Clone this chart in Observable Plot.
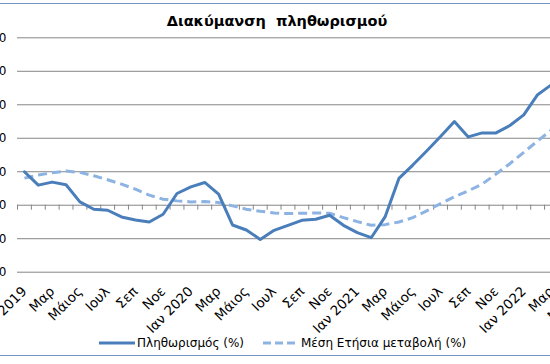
<!DOCTYPE html>
<html><head><meta charset="utf-8">
<script src="https://cdn.jsdelivr.net/npm/d3@7"></script>
<script src="https://cdn.jsdelivr.net/npm/@observablehq/plot@0.6"></script>
<style>
html,body{margin:0;padding:0;background:#fff;}
#wrap{position:relative;width:550px;height:364px;overflow:hidden;font-family:"DejaVu Sans",Verdana,sans-serif;color:#000;}
#frame{position:absolute;left:-10px;top:3px;width:570px;height:353px;border-top:1px solid #7393c4;border-bottom:1px solid #7393c4;box-sizing:border-box;}
#chart{position:absolute;left:0;top:0;}
#title{position:absolute;left:0;width:554px;top:12px;text-align:center;font-family:"DejaVu Sans",Verdana,sans-serif;font-weight:bold;font-size:14.5px;line-height:18px;white-space:pre;}
.leg{position:absolute;top:335px;height:16px;display:flex;align-items:center;font-size:12px;white-space:nowrap;}
.leg svg{display:block;}
</style></head>
<body>
<div id="wrap">
  <div id="frame"></div>
  <div id="chart"></div>
  <div id="title"></div>
  <div class="leg" id="leg1" style="left:99px"></div>
  <div class="leg" id="leg2" style="left:263px"></div>
</div>
<script>
// Categories (months Jan 2019 – May 2022)
const categories = ["Ιαν 2019","Φεβ","Μαρ","Απρ","Μάιος","Ιουν","Ιουλ","Αυγ","Σεπ","Οκτ","Νοε","Δεκ",
  "Ιαν 2020","Φεβ","Μαρ","Απρ","Μάιος","Ιουν","Ιουλ","Αυγ","Σεπ","Οκτ","Νοε","Δεκ",
  "Ιαν 2021","Φεβ","Μαρ","Απρ","Μάιος","Ιουν","Ιουλ","Αυγ","Σεπ","Οκτ","Νοε","Δεκ",
  "Ιαν 2022","Φεβ","Μαρ","Απρ","Μάιος"];
// Πληθωρισμός (%)
const inflation = [1.0,0.6,0.69,0.61,0.1,-0.12,-0.15,-0.35,-0.44,-0.5,-0.27,0.35,
  0.55,0.68,0.33,-0.59,-0.74,-1.02,-0.75,-0.6,-0.45,-0.42,-0.3,-0.6,
  -0.82,-0.97,-0.35,0.8,1.2,1.62,2.05,2.5,2.04,2.16,2.16,2.38,
  2.7,3.3,3.6];
// Μέση Ετήσια μεταβολή (%)
const annualAvg = [0.81,0.9,0.97,1.02,0.98,0.88,0.76,0.63,0.48,0.3,0.18,0.13,
  0.1,0.11,0.08,-0.02,-0.12,-0.18,-0.23,-0.25,-0.24,-0.23,-0.24,-0.37,
  -0.49,-0.6,-0.58,-0.5,-0.37,-0.17,0.05,0.25,0.43,0.63,0.93,1.24,
  1.58,1.92,2.25];
const yTicks = [-2,-1,0,1,2,3,4,5];
const titleText = "Διακύμανση  πληθωρισμού";
const seriesNames = ["Πληθωρισμός (%)","Μέση Ετήσια μεταβολή (%)"];
const colors = ["#4a7ebb","#8db3e2"];

const solidData = inflation.map((v,i)=>({i, v}));
const dashData = annualAvg.map((v,i)=>({i, v}));
const labelIdx = categories.map((c,i)=>i).filter(i=>i%2===0);
const tickPos = categories.map((c,i)=>i-0.5);
const fmt = v => d3.format(".1f")(v).replace(".", ",").replace("−","-");

const step = 13.87;
const x0 = 17;
const chart = Plot.plot({
  width: 550, height: 364,
  marginLeft: 17, marginRight: 0, marginTop: 37.3, marginBottom: 364-271.7,
  style: {fontFamily: '"DejaVu Sans", Verdana, sans-serif', fontSize: "12px", color: "#000", background: "transparent"},
  x: {domain: [-0.5, categories.length - 0.5], range: [x0, x0 + step*categories.length], label: null},
  y: {domain: [-2, 5], range: [271.7, 37.3], label: null},
  marks: [
    Plot.ruleY(yTicks, {stroke: "#868686", strokeWidth: 1}),
    Plot.ruleX(tickPos, {x: d=>d, y1: 0, y2: 0, insetBottom: -5, stroke: "#868686"}),
    Plot.axisY(yTicks, {anchor: "left", tickSize: 0, tickPadding: 11, tickFormat: fmt, fontSize: 12, label: null}),
    Plot.axisX(labelIdx, {anchor: "bottom", tickSize: 0, tickPadding: 17, tickRotate: -45, tickFormat: i => categories[i], fontSize: 13.5, label: null}),
    Plot.line(dashData, {x: "i", y: "v", stroke: colors[1], strokeWidth: 3, strokeDasharray: "9,5", strokeLinecap: "butt"}),
    Plot.line(solidData, {x: "i", y: "v", stroke: colors[0], strokeWidth: 3})
  ]
});
document.getElementById("chart").appendChild(chart);
document.getElementById("title").textContent = titleText;

function legend(id, name, color, dash, w, gap){
  const el = document.getElementById(id);
  el.innerHTML = `<svg width="${w}" height="6"><line x1="0" y1="3" x2="${w}" y2="3" stroke="${color}" stroke-width="3" ${dash?`stroke-dasharray="${dash}"`:""}/></svg><span style="margin-left:${gap}px">${name}</span>`;
}
legend("leg1", seriesNames[0], colors[0], null, 36, 2);
legend("leg2", seriesNames[1], colors[1], "8,4", 32, 6);
</script>
</body></html>
